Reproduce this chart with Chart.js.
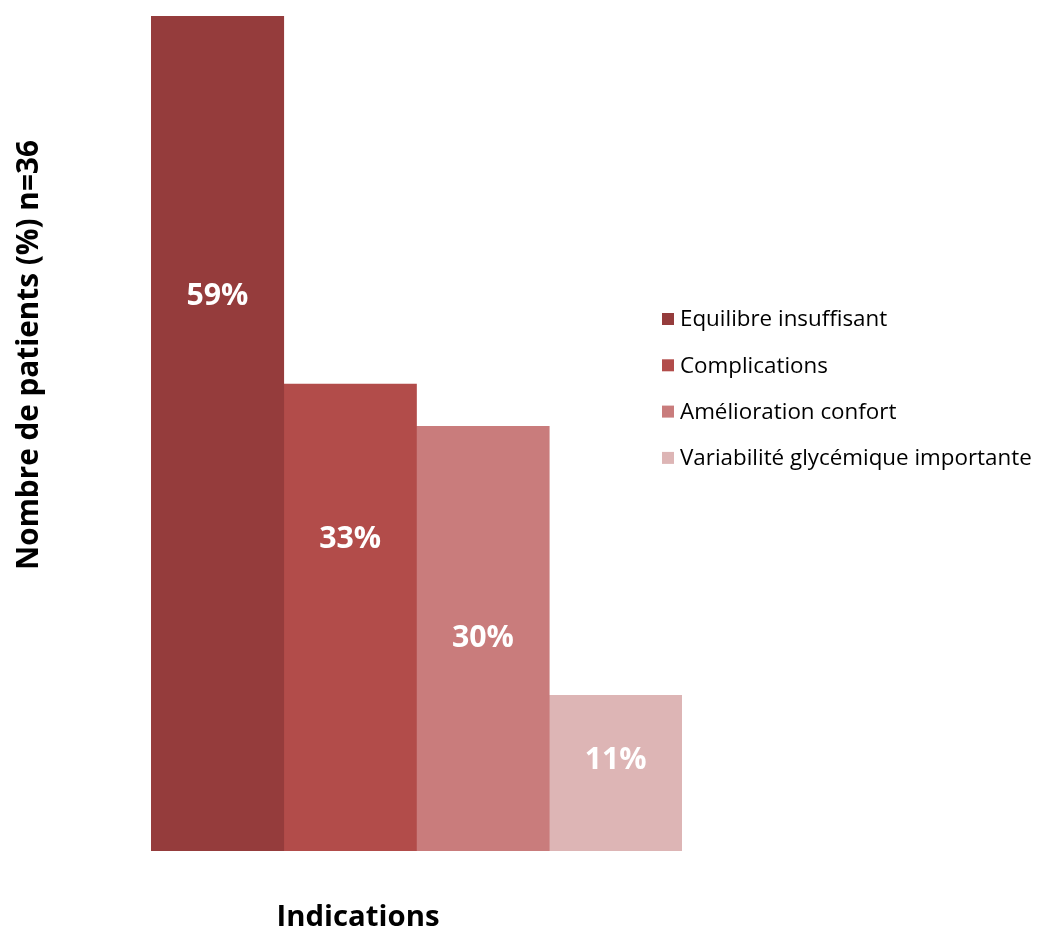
<!DOCTYPE html>
<html>
<head>
<meta charset="utf-8">
<script src="https://cdn.jsdelivr.net/npm/chart.js@4"></script>
<style>
  html, body { margin: 0; padding: 0; background: #fff; }
  #wrap { width: 1039px; height: 930px; position: relative; }
</style>
</head>
<body>
<div id="wrap"><canvas id="chart"></canvas></div>
<script>
const categories = ['Equilibre insuffisant', 'Complications', 'Amélioration confort', 'Variabilité glycémique importante'];
const values = [59, 33, 30, 11];
const valueLabels = ['59%', '33%', '30%', '11%'];
const colors = ['#953c3c', '#b24c4a', '#c97c7c', '#ddb5b5'];

const FONT = '"Open Sans", Lato, sans-serif';

// taille de police pour qu'un texte occupe la largeur voulue (Calibri absent)
function fitSize(c, text, width, weight) {
  c.font = weight + ' 20px ' + FONT;
  return 20 * width / c.measureText(text).width;
}

// libellés et titres dessinés à la main (position comme dans Excel)
const extras = {
  id: 'extras',
  afterDatasetsDraw(chart, args, opts) {
    const c = chart.ctx;
    const y = chart.scales.y;
    c.save();
    // étiquettes de valeurs
    c.fillStyle = '#fff';
    c.font = 'bold ' + fitSize(c, '59%', 62, 'bold') + 'px ' + FONT;
    c.textAlign = 'center';
    c.textBaseline = 'middle';
    chart.data.datasets.forEach((ds, i) => {
      const bar = chart.getDatasetMeta(i).data[0];
      c.fillText(valueLabels[i], bar.x, y.getPixelForValue(opts.labelAt[i]));
    });
    // légende
    c.textAlign = 'left';
    c.font = 'normal ' + fitSize(c, categories[3], 352, 'normal') + 'px ' + FONT;
    chart.data.datasets.forEach((ds, i) => {
      const ly = 319 + i * 46.3;
      c.fillStyle = ds.backgroundColor;
      c.fillRect(662, ly - 6, 12, 12);
      c.fillStyle = '#000';
      c.fillText(ds.label, 680, ly + 1);
    });
    // titres des axes
    c.font = 'bold ' + fitSize(c, 'Indications', 163, 'bold') + 'px ' + FONT;
    c.textAlign = 'center';
    c.fillText('Indications', 358, 918);
    c.font = 'bold ' + fitSize(c, 'Nombre de patients (%) n=36', 430, 'bold') + 'px ' + FONT;
    c.translate(30, 355);
    c.rotate(-Math.PI / 2);
    c.fillText('Nombre de patients (%) n=36', 0, 0);
    c.restore();
  }
};

new Chart(document.getElementById('chart'), {
  type: 'bar',
  data: {
    labels: [''],
    datasets: categories.map((name, i) => ({
      label: name,
      data: [values[i]],
      backgroundColor: colors[i],
      categoryPercentage: 1,
      barPercentage: 1,
    })),
  },
  options: {
    responsive: true,
    maintainAspectRatio: false,
    animation: false,
    layout: { padding: { left: 151, right: 357, top: 16, bottom: 79 } },
    scales: {
      x: { display: false },
      y: { display: false, min: 0, max: 59 },
    },
    plugins: {
      legend: { display: false },
      tooltip: { enabled: false },
      extras: { labelAt: [39.2, 22, 15, 6.4] },
    },
  },
  plugins: [extras],
});
</script>
</body>
</html>
